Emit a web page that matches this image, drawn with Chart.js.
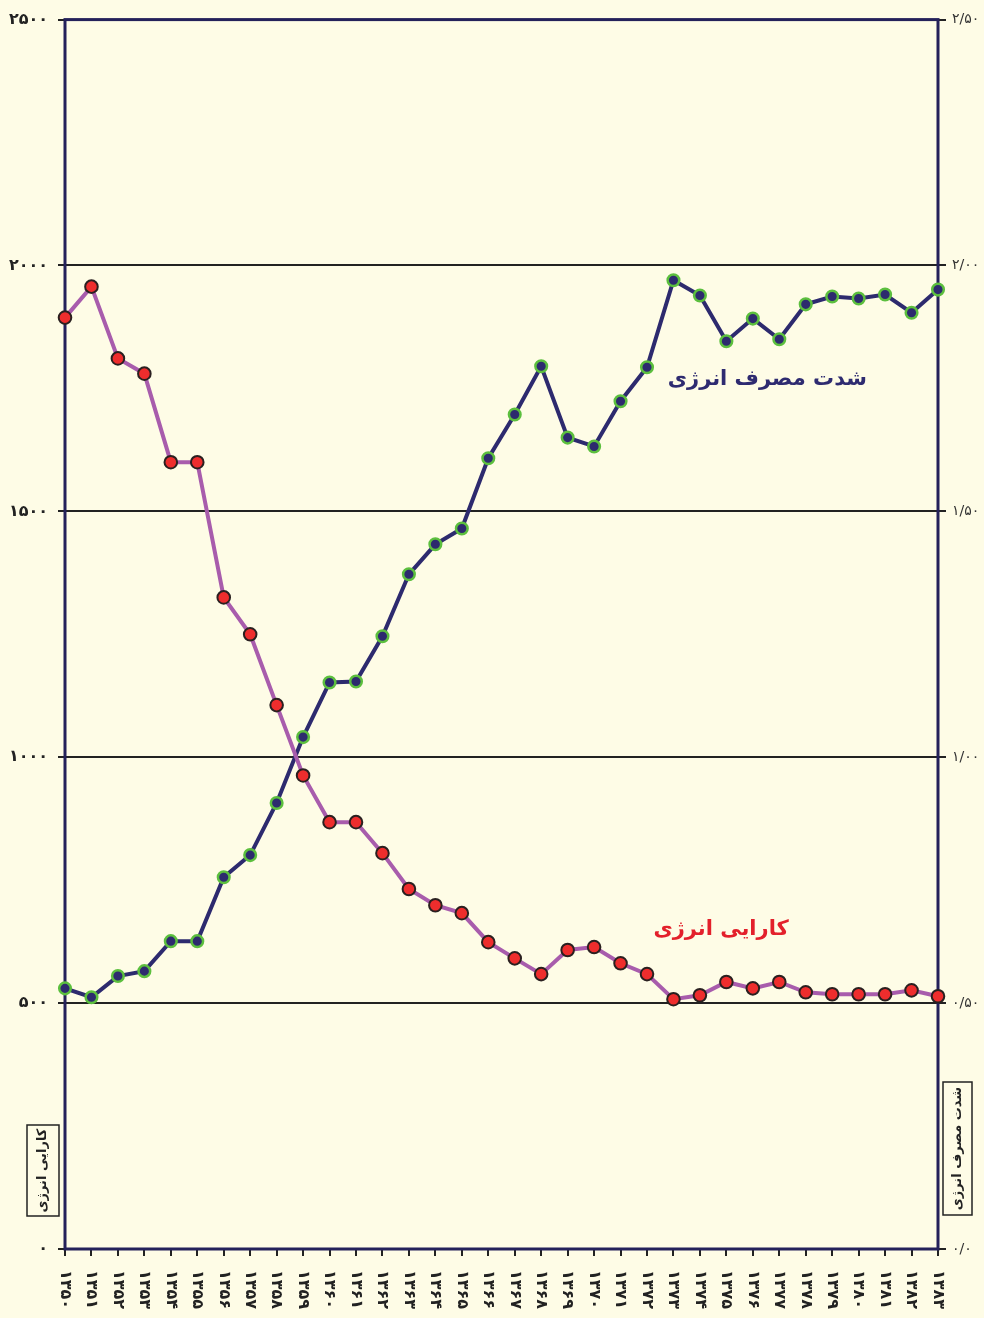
<!DOCTYPE html>
<html>
<head>
<meta charset="utf-8">
<script src="https://cdn.jsdelivr.net/npm/chart.js@4/dist/chart.umd.min.js"></script>
<style>
  html, body { margin: 0; padding: 0; background: #FEFCE6; }
  #wrap { width: 984px; height: 1318px; position: relative; }
</style>
</head>
<body>
<div id="wrap"><canvas id="c"></canvas></div>
<script>
// ---- data ----
const categories = ['۱۳۵۰','۱۳۵۱','۱۳۵۲','۱۳۵۳','۱۳۵۴','۱۳۵۵','۱۳۵۶','۱۳۵۷','۱۳۵۸','۱۳۵۹',
  '۱۳۶۰','۱۳۶۱','۱۳۶۲','۱۳۶۳','۱۳۶۴','۱۳۶۵','۱۳۶۶','۱۳۶۷','۱۳۶۸','۱۳۶۹',
  '۱۳۷۰','۱۳۷۱','۱۳۷۲','۱۳۷۳','۱۳۷۴','۱۳۷۵','۱۳۷۶','۱۳۷۷','۱۳۷۸','۱۳۷۹',
  '۱۳۸۰','۱۳۸۱','۱۳۸۲','۱۳۸۳'];
const efficiency = [1894,1957,1811,1780,1600,1600,1325,1250,1106,963,
  868,868,805,732,699,683,624,591,559,608,
  614,581,559,508,516,543,530,543,522,518,
  518,518,526,514];
const intensity = [0.530,0.512,0.555,0.565,0.626,0.626,0.756,0.801,0.907,1.041,
  1.152,1.154,1.246,1.372,1.433,1.465,1.608,1.697,1.795,1.650,
  1.632,1.724,1.793,1.970,1.939,1.846,1.892,1.850,1.921,1.937,
  1.933,1.941,1.904,1.951];
const leftTickLabels = ['۰','۵۰۰','۱۰۰۰','۱۵۰۰','۲۰۰۰','۲۵۰۰'];
const rightTickLabels = ['۰/۰','۰/۵۰','۱/۰۰','۱/۵۰','۲/۰۰','۲/۵۰'];
const efficiencyName = 'کارایی انرژی';
const intensityName = 'شدت مصرف انرژی';

const FONT = '"DejaVu Sans", sans-serif';
const BG = '#FEFCE6';

const decorPlugin = {
  id: 'decor',
  beforeDraw(chart) {
    const ctx = chart.ctx;
    ctx.save();
    ctx.fillStyle = BG;
    ctx.fillRect(0, 0, chart.width, chart.height);
    ctx.restore();
  },
  beforeDatasetsDraw(chart) {
    const ctx = chart.ctx, a = chart.chartArea;
    ctx.save();
    ctx.strokeStyle = '#24215A';
    ctx.lineWidth = 3;
    ctx.strokeRect(a.left, a.top, a.right - a.left, a.bottom - a.top);
    ctx.restore();
  },
  afterDraw(chart) {
    const ctx = chart.ctx, a = chart.chartArea;
    const xs = chart.scales.x, ys = chart.scales.y;
    ctx.save();
    // x labels rotated clockwise
    ctx.fillStyle = '#222';
    ctx.font = 'bold 16px ' + FONT;
    ctx.textAlign = 'left';
    ctx.textBaseline = 'middle';
    categories.forEach((lab, i) => {
      const x = xs.getPixelForValue(i);
      ctx.save();
      ctx.translate(x, a.bottom + 21);
      ctx.rotate(Math.PI / 2);
      ctx.fillText(lab, 0, 0);
      ctx.restore();
    });
    // series annotations
    ctx.font = 'bold 21px ' + FONT;
    ctx.textAlign = 'center';
    ctx.textBaseline = 'middle';
    ctx.fillStyle = '#2E2B70';
    ctx.fillText(intensityName, xs.getPixelForValue(26.55), ys.getPixelForValue(1768));
    ctx.fillStyle = '#E3202B';
    ctx.fillText(efficiencyName, xs.getPixelForValue(24.8), ys.getPixelForValue(650));
    // boxed axis titles (rotated counter-clockwise)
    function box(x0, y0, w, h, text) {
      ctx.save();
      ctx.strokeStyle = '#222';
      ctx.lineWidth = 1.5;
      ctx.strokeRect(x0, y0, w, h);
      ctx.translate(x0 + w / 2, y0 + h / 2);
      ctx.rotate(-Math.PI / 2);
      ctx.fillStyle = '#222';
      ctx.font = 'bold 13px ' + FONT;
      ctx.textAlign = 'center';
      ctx.textBaseline = 'middle';
      ctx.fillText(text, 0, 0);
      ctx.restore();
    }
    box(27, 1125, 32, 91, efficiencyName);
    box(943, 1082, 29, 133, intensityName);
    ctx.restore();
  }
};

new Chart(document.getElementById('c'), {
  type: 'line',
  data: {
    labels: categories,
    datasets: [
      {
        label: efficiencyName,
        data: efficiency,
        yAxisID: 'y',
        borderColor: '#A85CAC',
        borderWidth: 4,
        pointRadius: 6.3,
        pointBackgroundColor: '#EE2D2D',
        pointBorderColor: '#2A2020',
        pointBorderWidth: 2,
        tension: 0,
        clip: false
      },
      {
        label: intensityName,
        data: intensity,
        yAxisID: 'y1',
        borderColor: '#2D2A6E',
        borderWidth: 4,
        pointRadius: 5.8,
        pointBackgroundColor: '#2D2A6E',
        pointBorderColor: '#5CBF3E',
        pointBorderWidth: 2.5,
        tension: 0,
        clip: false
      }
    ]
  },
  options: {
    responsive: true,
    maintainAspectRatio: false,
    animation: false,
    events: [],
    layout: { padding: { top: 18, left: 0, right: 0, bottom: 0 } },
    plugins: { legend: { display: false }, tooltip: { enabled: false } },
    scales: {
      x: {
        type: 'category',
        offset: false,
        grid: { display: true, drawOnChartArea: false, drawTicks: true, tickLength: 7, color: '#222', lineWidth: 2 },
        border: { display: false },
        ticks: { display: false },
        afterFit(s) { s.height = 69; }
      },
      y: {
        position: 'left',
        min: 0, max: 2500,
        ticks: {
          stepSize: 500,
          callback: (v, i) => leftTickLabels[i],
          font: { family: FONT, size: 16, weight: 'bold' },
          color: '#222',
          padding: 10
        },
        grid: {
          color: (c) => (c.tick && (c.tick.value === 0 || c.tick.value === 2500)) ? 'rgba(0,0,0,0)' : '#222',
          tickColor: '#222',
          lineWidth: 2,
          tickLength: 7,
          drawTicks: true
        },
        border: { display: false },
        afterFit(s) { s.width = 65; }
      },
      y1: {
        position: 'right',
        min: 0, max: 2.5,
        ticks: {
          stepSize: 0.5,
          callback: (v, i) => rightTickLabels[i],
          font: { family: FONT, size: 14 },
          color: '#333',
          padding: 6
        },
        grid: { drawOnChartArea: false, drawTicks: true, tickLength: 8, color: '#222', lineWidth: 2 },
        border: { display: false },
        afterFit(s) { s.width = 46; }
      }
    }
  },
  plugins: [decorPlugin]
});
</script>
</body>
</html>
